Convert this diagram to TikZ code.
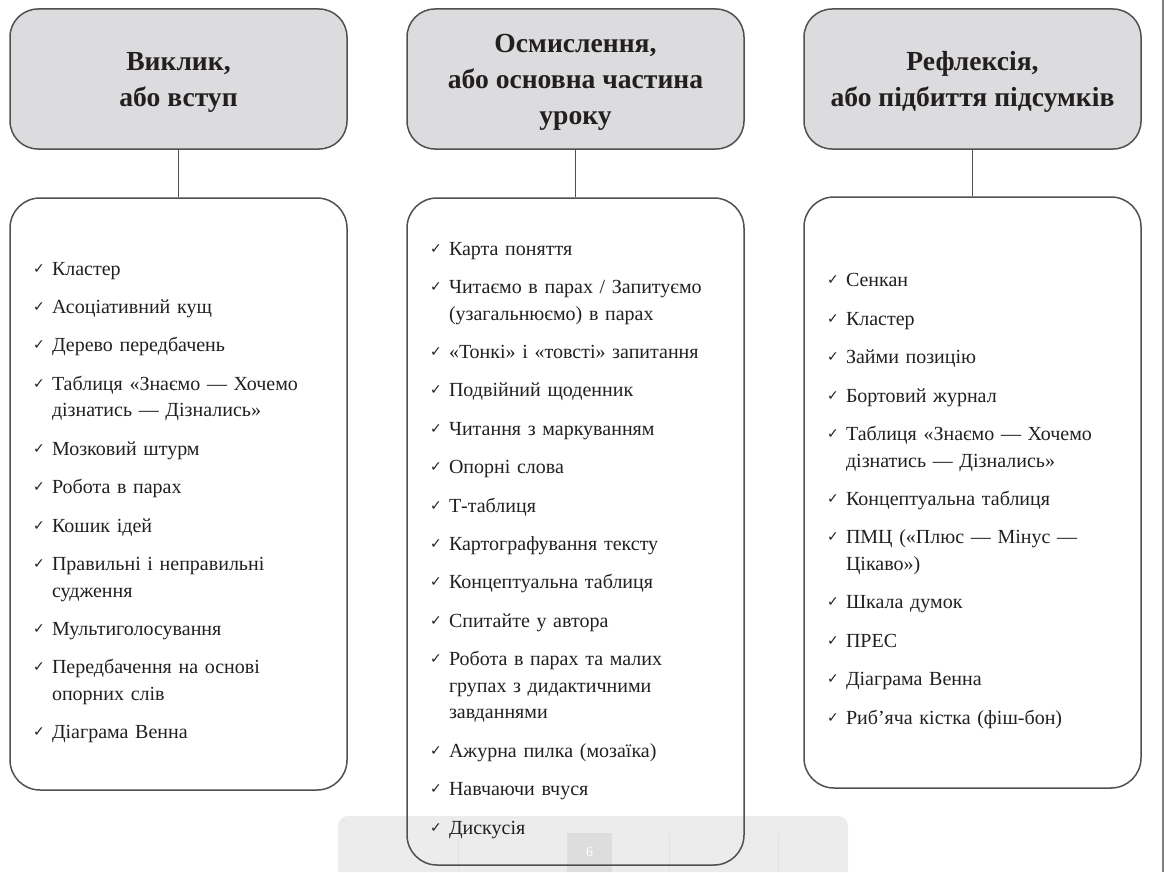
\documentclass[tikz,border=0pt]{standalone}
\usepackage{fontspec}
\setmainfont{Liberation Serif}
\newfontfamily\chkfont{DejaVu Sans}
\usetikzlibrary{positioning}
\definecolor{headgray}{RGB}{220,220,222}
\definecolor{linegray}{RGB}{80,80,80}
\definecolor{inkcol}{RGB}{35,31,32}
\definecolor{footgray}{RGB}{236,236,236}
\definecolor{pagegray}{RGB}{221,221,221}
\definecolor{divgray}{RGB}{226,226,226}
\newcommand{\tick}{\makebox[9.5pt][l]{\raisebox{1pt}{\chkfont\fontsize{7}{7}\selectfont ✓}}}
\newcommand{\itm}[1]{\par\hangindent=9.5pt\hangafter=1\noindent\tick#1}

\begin{document}
\begin{tikzpicture}[x=0.5pt,y=-0.5pt,
  headbox/.style={draw=linegray,line width=0.75pt,fill=headgray,rounded corners=14pt,
    minimum width=168.5pt,minimum height=70pt,align=center,text=inkcol,text depth=0pt,
    font=\fontsize{13.8}{18}\selectfont\bfseries},
  listbox/.style={draw=linegray,line width=0.75pt,rounded corners=15pt,text width=145.5pt,
    inner xsep=11.5pt,align=left,text=inkcol,font=\fontsize{10}{13.3}\selectfont}]
  \useasboundingbox (0,0) rectangle (1166,872);
  \fill[footgray,rounded corners=5pt] (338,872) -- (338,816) -- (848,816) [sharp corners] -- (848,872) -- cycle;
  \fill[pagegray] (567,833) rectangle (612,872);
  \node[text=white,font=\fontsize{7}{7}\selectfont] (pagenum) at (589.5,852) {6};
  \foreach \xx in {458,669,778}
    \draw[divgray,line width=0.5pt] (\xx,833) -- (\xx,872);
  \draw[gray,line width=1pt] (1163,0) -- (1163,872);

  \node[headbox] (h1) at (178.5,79) {Виклик,\\або вступ};
  \node[headbox] (h2) at (575.5,79) {Осмислення,\\або основна частина\\уроку};
  \node[headbox] (h3) at (972.5,79) {Рефлексія,\\або підбиття підсумків};

  \node[listbox,minimum height=296pt] (l1) at (178.5,494) {\setlength{\parskip}{5.9pt}%
    \itm{Кластер}
    \itm{Асоціативний кущ}
    \itm{Дерево передбачень}
    \itm{Таблиця «Знаємо — Хочемо\newline дізнатись — Дізнались»}
    \itm{Мозковий штурм}
    \itm{Робота в парах}
    \itm{Кошик ідей}
    \itm{Правильні і неправильні\newline судження}
    \itm{Мультиголосування}
    \itm{Передбачення на основі\newline опорних слів}
    \itm{Діаграма Венна}\par\vspace{4pt}};
  \node[listbox,minimum height=333.5pt] (l2) at (575.5,531.5) {\setlength{\parskip}{5.9pt}%
    \itm{Карта поняття}
    \itm{Читаємо в парах / Запитуємо\newline (узагальнюємо) в парах}
    \itm{«Тонкі» і «товсті» запитання}
    \itm{Подвійний щоденник}
    \itm{Читання з маркуванням}
    \itm{Опорні слова}
    \itm{Т-таблиця}
    \itm{Картографування тексту}
    \itm{Концептуальна таблиця}
    \itm{Спитайте у автора}
    \itm{Робота в парах та малих\newline групах з дидактичними\newline завданнями}
    \itm{Ажурна пилка (мозаїка)}
    \itm{Навчаючи вчуся}
    \itm{Дискусія}\par\vspace{4pt}};
  \node[listbox,minimum height=295.5pt] (l3) at (972.5,492.5) {\setlength{\parskip}{5.9pt}%
    \itm{Сенкан}
    \itm{Кластер}
    \itm{Займи позицію}
    \itm{Бортовий журнал}
    \itm{Таблиця «Знаємо — Хочемо\newline дізнатись — Дізнались»}
    \itm{Концептуальна таблиця}
    \itm{ПМЦ («Плюс — Мінус —\newline Цікаво»)}
    \itm{Шкала думок}
    \itm{ПРЕС}
    \itm{Діаграма Венна}
    \itm{Риб’яча кістка (фіш-бон)}\par\vspace{4pt}};

  \path[draw=linegray,line width=0.75pt]
    (h1) edge (l1)
    (h2) edge (l2)
    (h3) edge (l3);
\end{tikzpicture}
\end{document}
